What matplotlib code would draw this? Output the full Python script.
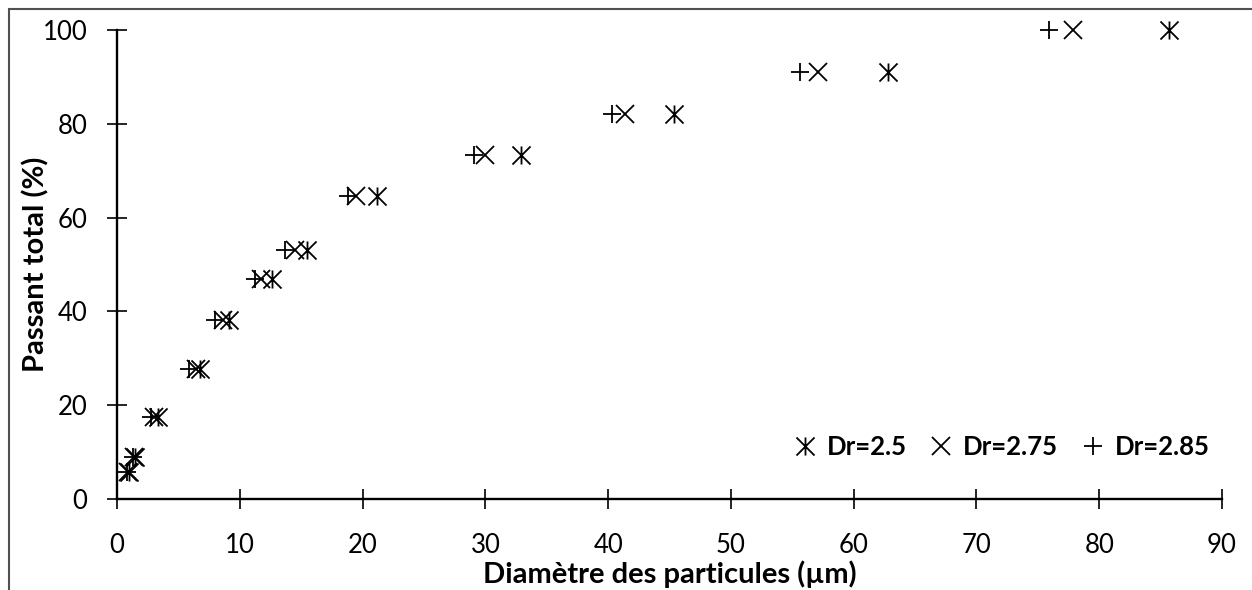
import matplotlib
matplotlib.use("Agg")
import matplotlib.pyplot as plt
from matplotlib.path import Path
from matplotlib.patches import Rectangle

# Cumulative passing (%) and particle diameters (µm) for each density ratio
passant = [5.8, 8.9, 17.5, 27.8, 38.2, 47.0, 53.0, 64.7, 73.4, 82.1, 91.0, 100.0]
d_dr250 = [1.0, 1.5, 3.3, 6.8, 9.1, 12.6, 15.5, 21.2, 32.9, 45.4, 62.8, 85.7]
d_dr275 = [0.9, 1.35, 3.0, 6.4, 8.6, 11.7, 14.5, 19.5, 30.0, 41.4, 57.1, 77.9]
d_dr285 = [0.85, 1.3, 2.8, 5.9, 8.0, 11.2, 13.7, 18.8, 29.1, 40.3, 55.6, 75.9]

labels = ["Dr=2.5", "Dr=2.75", "Dr=2.85"]
x_ticks = list(range(0, 91, 10))
y_ticks = list(range(0, 101, 20))

plt.rcParams["font.family"] = ["Lato", "DejaVu Sans"]

# Asterisk marker: a cross with a vertical stroke through it
star = Path(
    [(-1, -1), (1, 1), (-1, 1), (1, -1), (0, -1), (0, 1)],
    [Path.MOVETO, Path.LINETO, Path.MOVETO, Path.LINETO, Path.MOVETO, Path.LINETO],
)

fig = plt.figure(figsize=(12.52, 5.90), dpi=100)
ax = fig.add_axes([117 / 1252, 1 - 499 / 590, (1222 - 117) / 1252, (499 - 30) / 590])

common = dict(linestyle="none", color="black", markersize=13, markeredgewidth=1.3,
              clip_on=False)
ax.plot(d_dr250, passant, marker=star, label=labels[0], **common)
ax.plot(d_dr275, passant, marker="x", label=labels[1], **common)
ax.plot(d_dr285, passant, marker="+", label=labels[2], **common)

ax.set_xlim(0, 90)
ax.set_ylim(0, 100)
ax.set_xticks(x_ticks)
ax.set_yticks(y_ticks)

for side in ("top", "right"):
    ax.spines[side].set_visible(False)
for side in ("left", "bottom"):
    ax.spines[side].set_linewidth(1.7)
    ax.spines[side].set_color("black")

ax.tick_params(axis="both", direction="inout", length=14.4, width=1.2,
               labelsize=18.5, colors="black")
ax.tick_params(axis="x", pad=17.5)
ax.tick_params(axis="y", pad=14)

ax.set_xlabel("Diamètre des particules (µm)", fontsize=21, fontweight="bold")
ax.set_ylabel("Passant total (%)", fontsize=21, fontweight="bold")
ax.xaxis.set_label_coords(0.5, -0.13)
ax.yaxis.set_label_coords(-0.061, 0.5)

leg = ax.legend(loc="lower right", bbox_to_anchor=(1.01, 0.037), ncol=3, frameon=False,
                handlelength=1.0, handletextpad=0.35, columnspacing=0.85,
                prop={"size": 18.5, "weight": "bold"})

# Outer chart-area border
fig.add_artist(Rectangle((9 / 1252, -0.05), 1.2, 1 - 9 / 590 + 0.05,
                         transform=fig.transFigure, fill=False,
                         edgecolor="#505050", linewidth=1.5, clip_on=False))

fig.savefig("out.png", dpi=100, facecolor="white")
